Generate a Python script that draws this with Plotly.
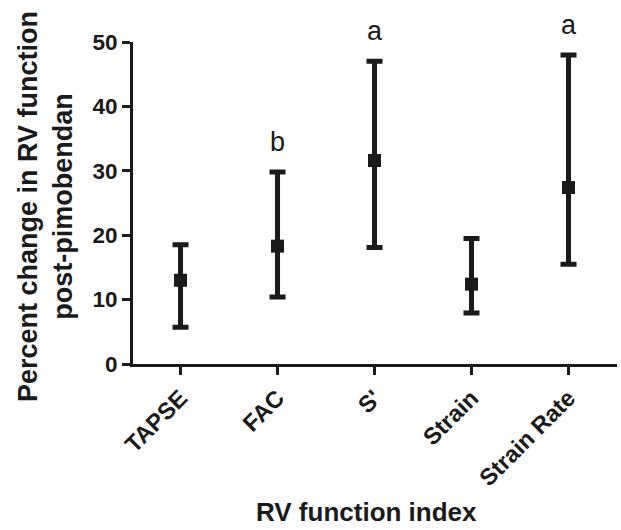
import plotly.graph_objects as go

categories = ["TAPSE", "FAC", "S'", "Strain", "Strain Rate"]
means = [13.0, 18.3, 31.6, 12.4, 27.4]
upper = [18.5, 29.8, 47.0, 19.5, 48.0]
lower = [5.7, 10.4, 18.1, 7.9, 15.5]
sig_labels = ["", "b", "a", "", "a"]
y_ticks = [0, 10, 20, 30, 40, 50]

xpos = list(range(len(categories)))
err_plus = [u - m for u, m in zip(upper, means)]
err_minus = [m - l for m, l in zip(means, lower)]

FONT = "Liberation Sans, Arial, sans-serif"
INK = "#1a1a1a"

fig = go.Figure()
fig.add_trace(go.Scatter(
    x=xpos, y=means, mode="markers",
    marker=dict(symbol="square", size=13, color=INK),
    error_y=dict(type="data", symmetric=False, array=err_plus, arrayminus=err_minus,
                 color=INK, thickness=5, width=8),
    showlegend=False, hoverinfo="skip",
))

# significance letters placed above the upper whisker of each group
for x, lab, top in zip(xpos, sig_labels, upper):
    if lab:
        fig.add_annotation(x=x, y=top, text=lab, showarrow=False, yshift=30,
                           font=dict(family=FONT, size=27, color=INK),
                           xanchor="center", yanchor="middle")

fig.add_annotation(xref="paper", yref="paper", x=0.5, y=0, xshift=-9, yshift=-148,
                   text="<b>RV function index</b>", showarrow=False,
                   font=dict(family=FONT, size=26, color=INK),
                   xanchor="center", yanchor="middle")
fig.add_annotation(xref="paper", yref="paper", x=0, y=0.5, xshift=-88, yshift=-4,
                   text="<b>Percent change in RV function<br>post-pimobendan</b>",
                   textangle=-90, showarrow=False,
                   font=dict(family=FONT, size=27, color=INK),
                   xanchor="center", yanchor="middle")

fig.update_layout(
    width=621, height=530,
    margin=dict(l=133, r=4, t=42, b=166, autoexpand=False),
    paper_bgcolor="white", plot_bgcolor="white",
    font=dict(family=FONT, color=INK),
    xaxis=dict(
        range=[-0.49, 4.50], tickmode="array", tickvals=xpos,
        ticktext=["<b>%s</b>" % c for c in categories], tickangle=-45,
        showline=True, linecolor=INK, linewidth=3,
        ticks="outside", ticklen=8, tickwidth=3, tickcolor=INK,
        showgrid=False, zeroline=False, automargin=False,
        tickfont=dict(family=FONT, size=23.5, color=INK),
    ),
    yaxis=dict(
        range=[0, 50], tickmode="array", tickvals=y_ticks,
        ticktext=["<b>%d</b>" % t for t in y_ticks],
        showline=True, linecolor=INK, linewidth=3,
        ticks="outside", ticklen=8, tickwidth=3, tickcolor=INK,
        showgrid=False, zeroline=False, automargin=False,
        tickfont=dict(family=FONT, size=22.5, color=INK),
    ),
)

fig.write_html("out.html", config={"displayModeBar": False},
               post_script="document.body.style.margin='0';")
